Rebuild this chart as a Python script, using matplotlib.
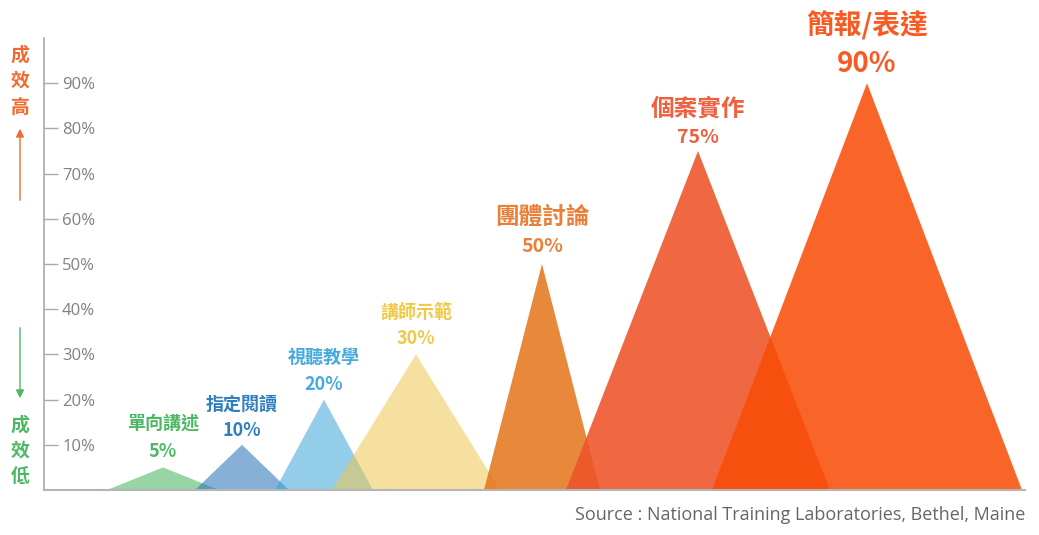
import matplotlib.pyplot as plt
import numpy as np

# learning pyramid values (%)
methods = ['單向講述', '指定閱讀', '視聽教學', '講師示範', '團體討論', '個案實作', '簡報/表達']
retention = [5, 10, 20, 30, 50, 75, 90]
yticks = [10, 20, 30, 40, 50, 60, 70, 80, 90]
source = 'Source : National Training Laboratories, Bethel, Maine'

# layout / style (pixel-ish units along x, axis spans 981 px)
centers = [119, 198, 280, 372, 498, 654, 823]
halfw = [56, 47, 49, 84, 58, 132, 155]
fill_colors = ['#42b35d', '#236fb4', '#3ba4d9', '#f0c750', '#e47317', '#ed5328', '#f94b05']
alphas = [0.55, 0.55, 0.55, 0.55, 0.85, 0.88, 0.86]
text_colors = ['#4cb864', '#2e7fc0', '#48aadc', '#f0c84a', '#e8803a', '#ee6040', '#f95a22']
name_size = [13, 13, 13, 13, 17, 17, 20]
pct_size = [13, 13, 13, 13, 14, 14, 20]
pct_off = [16, 14, 15, 16, 17, 13, 19]
name_off = [44, 41, 42, 42, 47, 42, 57]

cjk = ['Noto Sans CJK TC', 'DejaVu Sans']

fig = plt.figure(figsize=(10.39, 5.35), dpi=100)
ax = fig.add_axes([44 / 1039, 45 / 535, 981 / 1039, 452 / 535])
ax.set_xlim(0, 981)
ax.set_ylim(0, 100)

for i, v in enumerate(retention):
    c, w = centers[i], halfw[i]
    ax.fill([c - w, c, c + w], [0, v, 0], color=fill_colors[i], alpha=alphas[i], lw=0)
    ax.annotate(f'{v}%', xy=(c, v), xytext=(0, pct_off[i]), textcoords='offset pixels',
                ha='center', va='center', fontsize=pct_size[i], fontweight='bold',
                color=text_colors[i], family=cjk)
    ax.annotate(methods[i], xy=(c, v), xytext=(0, name_off[i]), textcoords='offset pixels',
                ha='center', va='center', fontsize=name_size[i], fontweight='bold',
                color=text_colors[i], family=cjk, annotation_clip=False)

for s in ['top', 'right']:
    ax.spines[s].set_visible(False)
ax.spines['left'].set_color('#aaaaaa')
ax.spines['left'].set_linewidth(1.2)
ax.spines['bottom'].set_color('#b5b5b5')
ax.spines['bottom'].set_linewidth(1.5)
ax.set_xticks([])
ax.set_yticks(yticks)
ax.set_yticklabels([f'{t}%' for t in yticks], family='Open Sans', fontsize=12, color='#808080')
ax.tick_params(axis='y', direction='in', length=10, width=1, color='#aaaaaa', pad=-13)
for lab in ax.get_yticklabels():
    lab.set_horizontalalignment('left')

# left side indicator
hi_c, lo_c = '#f26a2e', '#4cb864'
for k, ch in enumerate('成效高'):
    fig.text(20 / 1039, 1 - (55 + 26 * k) / 535, ch, ha='center', va='center',
             fontsize=13.5, fontweight='bold', color=hi_c, family=cjk)
for k, ch in enumerate('成效低'):
    fig.text(20 / 1039, 1 - (425 + 26 * k) / 535, ch, ha='center', va='center',
             fontsize=13.5, fontweight='bold', color=lo_c, family=cjk)
ax.annotate('', xy=(20 / 1039, 1 - 126 / 535), xytext=(20 / 1039, 1 - 203 / 535),
            xycoords='figure fraction', textcoords='figure fraction',
            arrowprops=dict(arrowstyle='-|>', color=hi_c, lw=1, mutation_scale=12))
ax.annotate('', xy=(20 / 1039, 1 - 401 / 535), xytext=(20 / 1039, 1 - 325 / 535),
            xycoords='figure fraction', textcoords='figure fraction',
            arrowprops=dict(arrowstyle='-|>', color=lo_c, lw=1, mutation_scale=12))

fig.text(1025 / 1039, 1 - 515 / 535, source, ha='right', va='center',
         fontsize=13, color='#666666', family='Open Sans')

plt.savefig('out.png', dpi=100)
